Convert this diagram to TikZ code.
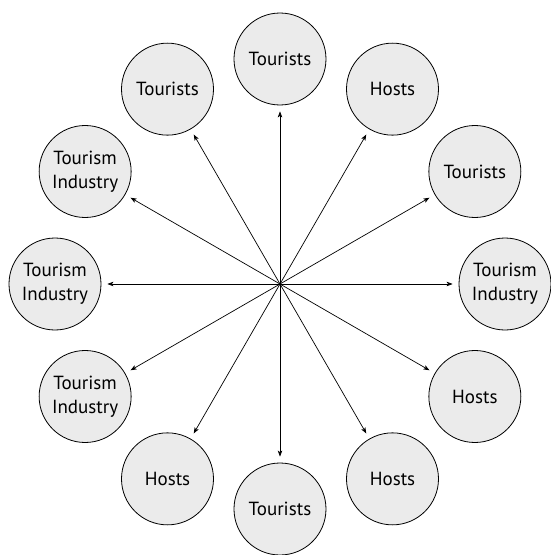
\documentclass[tikz,border=0pt]{standalone}
\usepackage{fontspec}
\setmainfont{PT Sans}
\usetikzlibrary{arrows.meta}
\definecolor{bubblefill}{RGB}{235,235,235}
\begin{document}
\begin{tikzpicture}[x=1pt,y=1pt,
  bubble/.style={circle, draw=black, line width=0.8pt, fill=bubblefill,
    minimum size=92pt, inner sep=0pt, align=center,
    font=\fontsize{19}{24}\selectfont},
  spoke/.style={line width=0.7pt, -{Stealth[length=6pt,width=4.5pt,inset=1.5pt]}, shorten >=6pt}]
\useasboundingbox (-280,-271) rectangle (270,284);
\coordinate (hub) at (0,0);
\node[bubble] (n0)   at (0:225)   {Tourism\\Industry};
\node[bubble] (n30)  at (30:225)  {Tourists};
\node[bubble] (n60)  at (60:225)  {Hosts};
\node[bubble] (n90)  at (90:225)  {Tourists};
\node[bubble] (n120) at (120:225) {Tourists};
\node[bubble] (n150) at (150:225) {Tourism\\Industry};
\node[bubble] (n180) at (180:225) {Tourism\\Industry};
\node[bubble] (n210) at (210:225) {Tourism\\Industry};
\node[bubble] (n240) at (240:225) {Hosts};
\node[bubble] (n270) at (270:225) {Tourists};
\node[bubble] (n300) at (300:225) {Hosts};
\node[bubble] (n330) at (330:225) {Hosts};
\foreach \a in {0,30,60,90,120,150,180,210,240,270,300,330}
  \draw[spoke] (hub) -- (n\a);
\end{tikzpicture}
\end{document}
